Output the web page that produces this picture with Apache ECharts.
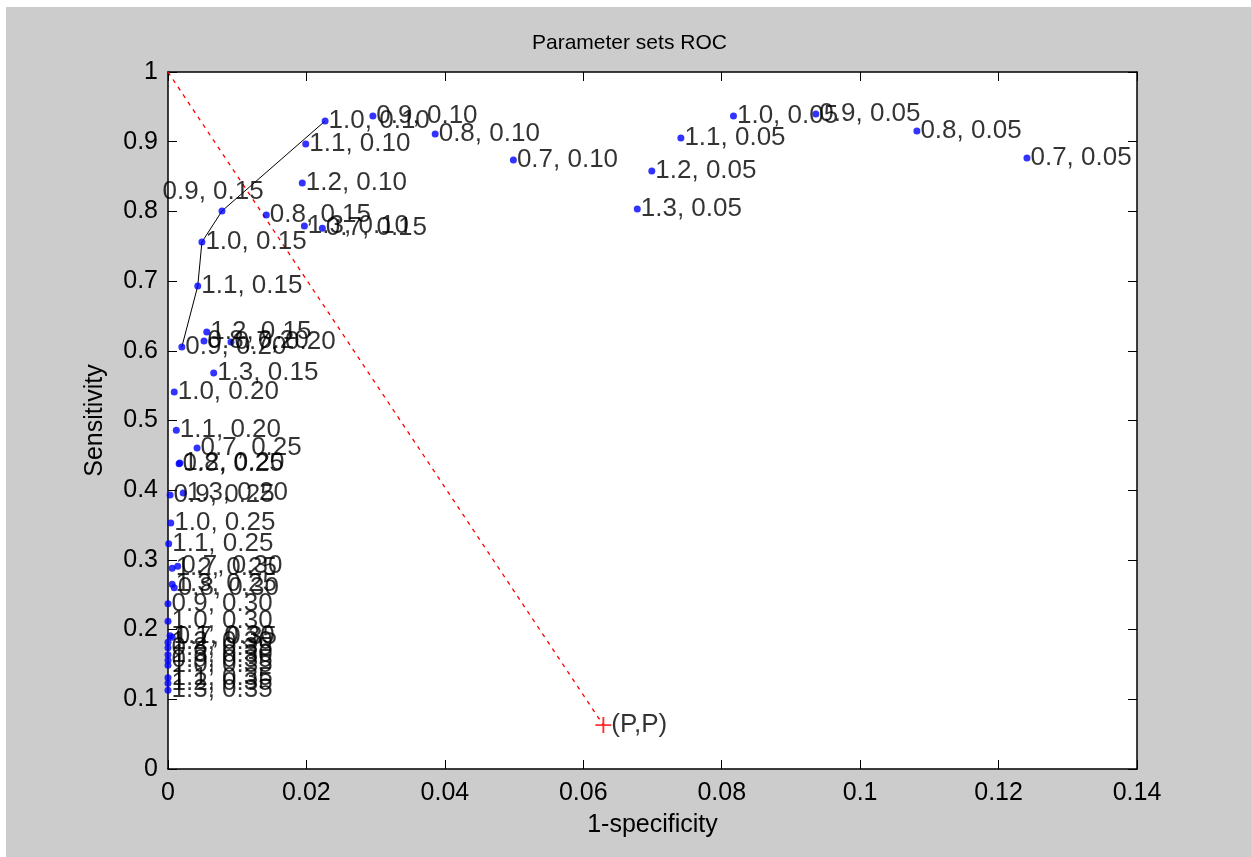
<!DOCTYPE html>
<html>
<head>
<meta charset="utf-8">
<title>Parameter sets ROC</title>
<script src="https://cdn.jsdelivr.net/npm/echarts@6/dist/echarts.min.js"></script>
<style>
  html, body { margin: 0; padding: 0; background: #ffffff; }
  #chart { width: 1251px; height: 857px; }
</style>
</head>
<body>
<div id="chart"></div>
<script>
// Parameter set labels ("scale, threshold") with their operating points
const paramLabels = [
  '0.7, 0.05', '0.8, 0.05', '0.9, 0.05', '1.0, 0.05', '1.1, 0.05', '1.2, 0.05', '1.3, 0.05',
  '0.7, 0.10', '0.8, 0.10', '0.9, 0.10', '1.0, 0.10', '1.1, 0.10', '1.2, 0.10', '1.3, 0.10',
  '0.7, 0.15', '0.8, 0.15', '0.9, 0.15', '1.0, 0.15', '1.1, 0.15', '1.2, 0.15', '1.3, 0.15',
  '0.7, 0.20', '0.8, 0.20', '0.9, 0.20', '1.0, 0.20', '1.1, 0.20', '1.2, 0.20', '1.3, 0.20',
  '0.7, 0.25', '0.8, 0.25', '0.9, 0.25', '1.0, 0.25', '1.1, 0.25', '1.2, 0.25', '1.3, 0.25',
  '0.7, 0.30', '0.8, 0.30', '0.9, 0.30', '1.0, 0.30', '1.1, 0.30', '1.2, 0.30', '1.3, 0.30',
  '0.7, 0.35', '0.8, 0.35', '0.9, 0.35', '1.0, 0.35', '1.1, 0.35', '1.2, 0.35', '1.3, 0.35'
];
// 1-specificity (false positive rate)
const fpr = [
  0.1241, 0.1082, 0.0936, 0.0817, 0.0741, 0.0699, 0.0678,
  0.0499, 0.0386, 0.0296, 0.0227, 0.0199, 0.0194, 0.0197,
  0.0223, 0.0142, 0.0078, 0.0049, 0.0043, 0.0056, 0.0066,
  0.0091, 0.0052, 0.0020, 0.0009, 0.0012, 0.0017, 0.0022,
  0.0042, 0.0016, 0.0003, 0.0004, 0.0001, 0.0006, 0.0006,
  0.0014, 0.0009, 0.0000, 0.0000, 0.0003, 0.0000, 0.0000,
  0.0006, 0.0000, 0.0000, 0.0000, 0.0000, 0.0000, 0.0000
];
// Sensitivity (true positive rate)
const tpr = [
  0.8766, 0.9154, 0.9397, 0.9369, 0.9053, 0.8580, 0.8034,
  0.8737, 0.9110, 0.9370, 0.9297, 0.8967, 0.8407, 0.7790,
  0.7760, 0.7950, 0.8006, 0.7560, 0.6930, 0.6270, 0.5680,
  0.6126, 0.6140, 0.6055, 0.5410, 0.4860, 0.4390, 0.3960,
  0.4605, 0.4380, 0.3930, 0.3530, 0.3230, 0.2880, 0.2650,
  0.2910, 0.2600, 0.2370, 0.2120, 0.1910, 0.1820, 0.1640,
  0.1890, 0.1740, 0.1560, 0.1490, 0.1310, 0.1230, 0.1130
];
// Parameter sets joined by the upper hull line
const hullLabels = ['0.9, 0.20', '1.1, 0.15', '1.0, 0.15', '0.9, 0.15', '1.0, 0.10'];
// Reference point (P,P) and the diagonal from the ideal corner
const refPoint = [0.0629, 0.063];
const idealCorner = [0, 1];
const refLabel = '(P,P)';

// Axis ranges
const xMin = 0, xMax = 0.14, xStep = 0.02;
const yMin = 0, yMax = 1, yStep = 0.1;

const FONT = '"Liberation Sans", Arial, Helvetica, sans-serif';

const pointData = paramLabels.map(function (name, i) {
  const item = { name: name, value: [fpr[i], tpr[i]] };
  if (name === '0.9, 0.15') {
    // this label sits above-left of its marker
    item.label = { show: true, position: [-56, -29] };
  }
  return item;
});

const hullData = hullLabels.map(function (name) {
  const i = paramLabels.indexOf(name);
  return [fpr[i], tpr[i]];
});

const chart = echarts.init(document.getElementById('chart'), null, { renderer: 'canvas' });

const tickStyle = { show: true, inside: true, length: 9, lineStyle: { color: '#000', width: 1 } };
const lineStyle = { show: true, lineStyle: { color: '#000', width: 1.5 } };

chart.setOption({
  animation: false,
  backgroundColor: '#ffffff',
  graphic: [{
    type: 'rect',
    z: -10,
    silent: true,
    shape: { x: 6, y: 7, width: 1245, height: 850 },
    style: { fill: '#cccccc' }
  }],
  title: {
    text: 'Parameter sets ROC',
    left: 527,
    top: 28,
    textStyle: { fontFamily: FONT, fontSize: 21, fontWeight: 'normal', color: '#000' }
  },
  grid: { left: 168, top: 72, width: 969, height: 697, show: true, backgroundColor: '#ffffff', borderWidth: 0 },
  xAxis: [{
    type: 'value',
    min: xMin, max: xMax, interval: xStep,
    position: 'bottom',
    name: '1-specificity',
    nameLocation: 'middle',
    nameGap: 44,
    nameTextStyle: { fontFamily: FONT, fontSize: 25, color: '#000' },
    axisLine: Object.assign({ onZero: false }, lineStyle),
    axisTick: tickStyle,
    axisLabel: { fontFamily: FONT, fontSize: 25, color: '#000', margin: 12 },
    splitLine: { show: false }
  }, {
    type: 'value',
    min: xMin, max: xMax, interval: xStep,
    position: 'top',
    axisLine: Object.assign({ onZero: false }, lineStyle),
    axisTick: tickStyle,
    axisLabel: { show: false },
    splitLine: { show: false }
  }],
  yAxis: [{
    type: 'value',
    min: yMin, max: yMax, interval: yStep,
    position: 'left',
    name: 'Sensitivity',
    nameLocation: 'middle',
    nameGap: 60,
    nameRotate: 90,
    nameTextStyle: { fontFamily: FONT, fontSize: 25, color: '#000' },
    axisLine: Object.assign({ onZero: false }, lineStyle),
    axisTick: tickStyle,
    axisLabel: { fontFamily: FONT, fontSize: 25, color: '#000', margin: 10 },
    splitLine: { show: false }
  }, {
    type: 'value',
    min: yMin, max: yMax, interval: yStep,
    position: 'right',
    axisLine: Object.assign({ onZero: false }, lineStyle),
    axisTick: tickStyle,
    axisLabel: { show: false },
    splitLine: { show: false }
  }],
  series: [{
    name: 'diagonal',
    type: 'line',
    data: [idealCorner, refPoint],
    symbol: 'none',
    lineStyle: { color: '#ff0000', width: 1.3, type: [4, 5] },
    z: 2,
    silent: true
  }, {
    name: 'hull',
    type: 'line',
    data: hullData,
    symbol: 'none',
    lineStyle: { color: '#000000', width: 1 },
    z: 3,
    silent: true
  }, {
    name: 'parameter sets',
    type: 'scatter',
    data: pointData,
    symbol: 'circle',
    symbolSize: 7,
    itemStyle: { color: '#0000ff' },
    label: {
      show: true,
      position: 'right',
      distance: 0,
      formatter: function (p) { return p.name; },
      fontFamily: FONT,
      fontSize: 26,
      color: '#000'
    },
    labelLayout: { hideOverlap: false },
    z: 4,
    silent: true
  }, {
    name: 'reference',
    type: 'scatter',
    data: [{ name: refLabel, value: refPoint }],
    symbol: 'path://M4.4,0h1.2v4.4h4.4v1.2h-4.4v4.4h-1.2v-4.4h-4.4v-1.2h4.4z',
    symbolSize: 16,
    itemStyle: { color: '#ff0000' },
    label: {
      show: true,
      position: 'right',
      distance: 0,
      formatter: function (p) { return p.name; },
      fontFamily: FONT,
      fontSize: 26,
      color: '#000'
    },
    z: 5,
    silent: true
  }]
});
</script>
</body>
</html>
